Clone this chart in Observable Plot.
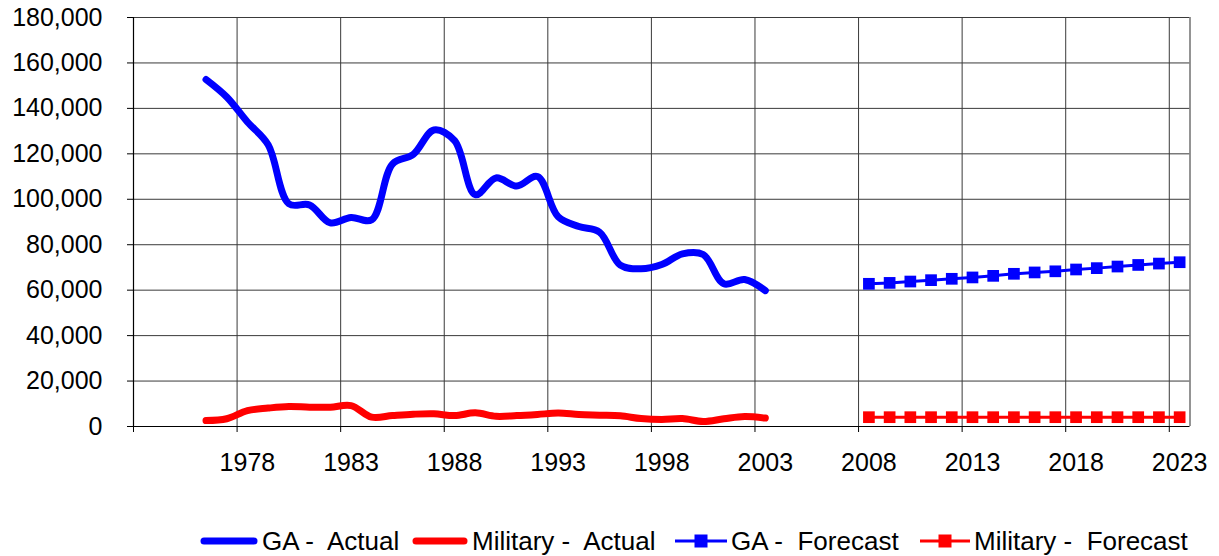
<!DOCTYPE html>
<html>
<head>
<meta charset="utf-8">
<script src="https://cdn.jsdelivr.net/npm/d3@7"></script>
<script src="https://cdn.jsdelivr.net/npm/@observablehq/plot@0.6"></script>
<style>
  html, body { margin: 0; padding: 0; background: #fff; }
  #wrap { width: 1219px; height: 556px; position: relative; font-family: "Liberation Sans", Arial, sans-serif; overflow: hidden; }
  #chart svg { display: block; }
  #legend { position: relative; width: 1219px; height: 56px; }
  .item { position: absolute; top: 0; height: 56px; display: flex; align-items: center; }
  .item span { font-size: 26px; white-space: pre; color: #000; margin-left: 4px; }
</style>
</head>
<body>
<div id="wrap">
  <div id="chart"></div>
  <div id="legend"></div>
</div>
<script>
// ---- data ----
const actualYears = [1976,1977,1978,1979,1980,1981,1982,1983,1984,1985,1986,1987,1988,1989,1990,1991,1992,1993,1994,1995,1996,1997,1998,1999,2000,2001,2002,2003];
const gaActual = [152700,145000,134000,124000,98000,97500,89600,92000,91000,115500,119700,130500,125800,102000,109400,105800,110000,92300,88000,85500,71000,69400,71300,76000,75700,62800,64700,59800];
const militaryActual = [2600,3400,7000,8100,8800,8500,8500,9200,4100,4800,5400,5600,4800,6000,4500,4800,5300,5900,5300,5000,4700,3500,3100,3500,2200,3400,4400,3700];

const forecastYears = [2008,2009,2010,2011,2012,2013,2014,2015,2016,2017,2018,2019,2020,2021,2022,2023];
const gaForecast = [62800,63200,63800,64400,65000,65600,66300,67200,67800,68300,69100,69700,70400,71100,71700,72300];
const militaryForecast = [4100,4100,4100,4100,4100,4100,4100,4100,4100,4100,4100,4100,4100,4100,4100,4100];

const categoryFirst = 1973, categoryLast = 2023;
const xLabelYears = [1978,1983,1988,1993,1998,2003,2008,2013,2018,2023];
const yTicks = [0,20000,40000,60000,80000,100000,120000,140000,160000,180000];

const seriesNames = ["GA -  Actual", "Military -  Actual", "GA -  Forecast", "Military -  Forecast"];
const seriesColors = ["#0000ff", "#ff0000", "#0000ff", "#ff0000"];

// ---- tables ----
const gaA = actualYears.map((year, i) => ({year, value: gaActual[i]}));
const milA = actualYears.map((year, i) => ({year, value: militaryActual[i]}));
const gaF = forecastYears.map((year, i) => ({year, value: gaForecast[i]}));
const milF = forecastYears.map((year, i) => ({year, value: militaryForecast[i]}));
const boundaries = [categoryFirst - 0.5, ...xLabelYears.map(y => y - 0.5)];
const gridX = xLabelYears.map(y => y - 0.5);

const chart = Plot.plot({
  width: 1219,
  height: 500,
  marginLeft: 133,
  marginRight: 29.5,
  marginTop: 17,
  marginBottom: 74,
  style: {fontFamily: "'Liberation Sans', Arial, sans-serif", fontSize: "25px", color: "#000", background: "#fff"},
  x: {domain: [categoryFirst - 0.5, categoryLast + 0.5]},
  y: {domain: [0, 180000]},
  marks: [
    Plot.ruleY(yTicks.slice(1), {stroke: "#3a3a3a", strokeWidth: 1}),
    Plot.ruleX(gridX, {stroke: "#3a3a3a", strokeWidth: 1}),
    Plot.ruleX([categoryLast + 0.5], {stroke: "#707070", strokeWidth: 1.5}),
    Plot.axisY(yTicks, {tickSize: 6, tickPadding: 25, tickFormat: d3.format(","), label: null, stroke: "#000"}),
    Plot.axisX(boundaries, {tickSize: 6, tickFormat: () => "", label: null, stroke: "#000"}),
    Plot.axisX(xLabelYears, {tickSize: 0, tickPadding: 27, tickFormat: d => String(d), label: null}),
    Plot.ruleX([categoryFirst - 0.5], {stroke: "#000", strokeWidth: 1.2}),
    Plot.ruleY([0], {stroke: "#000", strokeWidth: 1.2}),
    Plot.line(gaA, {x: "year", y: "value", stroke: seriesColors[0], strokeWidth: 7, curve: "catmull-rom", strokeLinecap: "round", strokeLinejoin: "round"}),
    Plot.line(milA, {x: "year", y: "value", stroke: seriesColors[1], strokeWidth: 7, curve: "catmull-rom", strokeLinecap: "round", strokeLinejoin: "round"}),
    Plot.line(gaF, {x: "year", y: "value", stroke: seriesColors[2], strokeWidth: 3}),
    Plot.dot(gaF, {x: "year", y: "value", symbol: "square", r: 6.6, fill: seriesColors[2], stroke: null}),
    Plot.line(milF, {x: "year", y: "value", stroke: seriesColors[3], strokeWidth: 3}),
    Plot.dot(milF, {x: "year", y: "value", symbol: "square", r: 6.6, fill: seriesColors[3], stroke: null})
  ]
});
document.getElementById("chart").appendChild(chart);

// ---- legend ----
const legendLeft = [200, 412, 675, 920];
const legendSwatchW = [58, 56, 52, 50];
const legend = document.getElementById("legend");
seriesNames.forEach((name, i) => {
  const item = document.createElement("div");
  item.className = "item";
  item.style.left = legendLeft[i] + "px";
  item.style.top = "13px";
  const w = legendSwatchW[i];
  const forecast = i >= 2;
  const svg = `<svg width="${w}" height="20" style="display:block">` +
    (forecast
      ? `<line x1="0" y1="10" x2="${w}" y2="10" stroke="${seriesColors[i]}" stroke-width="3"/><rect x="${w/2-6.5}" y="3.5" width="13" height="13" fill="${seriesColors[i]}"/>`
      : `<line x1="4" y1="10" x2="${w-4}" y2="10" stroke="${seriesColors[i]}" stroke-width="7" stroke-linecap="round"/>`) +
    `</svg>`;
  item.innerHTML = svg + `<span>${name}</span>`;
  legend.appendChild(item);
});
</script>
</body>
</html>
